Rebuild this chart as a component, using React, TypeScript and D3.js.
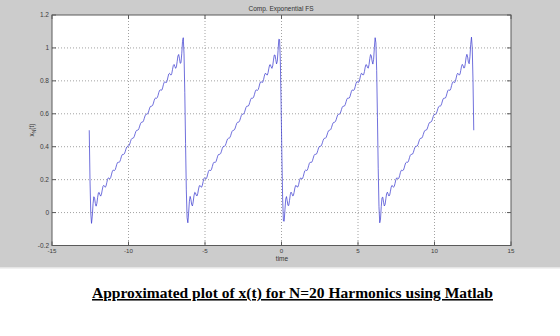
import React, { useEffect } from "react";
import * as d3 from "d3";

// ---- data ----
const harmonicCount = 20; // N
const periodCount = 4; // plotted from -2*pi*2 to 2*pi*2
const timeStep = 0.05;
const xTicks = [-15, -10, -5, 0, 5, 10, 15];
const yTicks = [-0.2, 0, 0.2, 0.4, 0.6, 0.8, 1, 1.2];
const titleText = "Comp. Exponential FS";
const xLabel = "time";
const caption = "Approximated plot of x(t) for N=20 Harmonics using Matlab";

// complex exponential FS coefficients of the sawtooth t/(2pi): c0 = 1/2, cn = j/(2*pi*n)
const c0 = 0.5;
const coeffIm = d3.range(1, harmonicCount + 1).map((n) => 1 / (2 * Math.PI * n));

function buildSeries() {
  const tMax = (periodCount / 2) * 2 * Math.PI;
  const pts: [number, number][] = [];
  const n = Math.round((2 * tMax) / timeStep);
  for (let k = 0; k <= n; k++) {
    const t = -tMax + (2 * tMax * k) / n;
    let v = c0;
    coeffIm.forEach((b, i) => {
      const m = i + 1;
      // 2*Re( j*b*e^{jmt} ) = -2 b sin(mt)
      v += -2 * b * Math.sin(m * t);
    });
    pts.push([t, v]);
  }
  return pts;
}

export default function App() {
  useEffect(() => {
    document.body.style.margin = "0";
  }, []);
  const W = 560,
    H = 336;
  const left = 52,
    right = 511,
    top = 15,
    bottom = 245.5;
  const x = d3.scaleLinear().domain([-15, 15]).range([left, right]);
  const y = d3.scaleLinear().domain([-0.2, 1.2]).range([bottom, top]);
  const series = buildSeries();
  const line = d3
    .line<[number, number]>()
    .x((d) => x(d[0]))
    .y((d) => y(d[1]));
  const axisColor = "#5a5a5a";
  const labelColor = "#3c3c3c";
  const font = "Liberation Sans, Arial, sans-serif";
  const tickLen = 4;
  return (
    <svg width={W} height={H} style={{ display: "block" }} fontFamily={font}>
      <rect x={0} y={0} width={W} height={H} fill="#ffffff" />
      <rect x={0} y={0} width={W} height={267.5} fill="#cccccc" />
      <line x1={0} x2={W} y1={268} y2={268} stroke="#e4e4e4" strokeWidth={1} />
      <rect x={left} y={top} width={right - left} height={bottom - top} fill="#ffffff" />
      {/* grid */}
      {xTicks.slice(1, -1).map((t) => (
        <line
          key={"gx" + t}
          x1={x(t)}
          x2={x(t)}
          y1={top}
          y2={bottom}
          stroke="#8a8a8a"
          strokeWidth={0.8}
          strokeDasharray="1,2"
        />
      ))}
      {yTicks.slice(1, -1).map((t) => (
        <line
          key={"gy" + t}
          x1={left}
          x2={right}
          y1={y(t)}
          y2={y(t)}
          stroke="#8a8a8a"
          strokeWidth={0.8}
          strokeDasharray="1,2"
        />
      ))}
      {/* curve */}
      <path d={line(series) || ""} fill="none" stroke="#4040d0" strokeWidth={0.75} strokeLinejoin="round" />
      {/* box */}
      <rect x={left} y={top} width={right - left} height={bottom - top} fill="none" stroke={axisColor} strokeWidth={1} />
      {/* ticks */}
      {xTicks.map((t) => (
        <g key={"tx" + t}>
          <line x1={x(t)} x2={x(t)} y1={bottom} y2={bottom - tickLen} stroke={axisColor} />
          <line x1={x(t)} x2={x(t)} y1={top} y2={top + tickLen} stroke={axisColor} />
          <text x={x(t)} y={bottom + 7} fontSize={6.2} fill={labelColor} textAnchor="middle">
            {String(t)}
          </text>
        </g>
      ))}
      {yTicks.map((t) => (
        <g key={"ty" + t}>
          <line x1={left} x2={left + tickLen} y1={y(t)} y2={y(t)} stroke={axisColor} />
          <line x1={right} x2={right - tickLen} y1={y(t)} y2={y(t)} stroke={axisColor} />
          <text x={left - 3} y={y(t) + 2.3} fontSize={6.5} fill={labelColor} textAnchor="end">
            {String(Math.round(t * 10) / 10)}
          </text>
        </g>
      ))}
      {/* title & labels */}
      <text x={281} y={11} fontSize={6.5} fill="#333" textAnchor="middle">
        {titleText}
      </text>
      <text x={282} y={260.5} fontSize={6.5} fill="#333" textAnchor="middle">
        {xLabel}
      </text>
      <text transform="translate(34,130) rotate(-90)" fontSize={6.5} fill="#333" textAnchor="middle">
        x
        <tspan fontSize={5} dy={2}>
          N
        </tspan>
        <tspan dy={-2}>(t)</tspan>
      </text>
      {/* caption */}
      <text
        x={292.5}
        y={298}
        fontSize={15.5}
        fontWeight="bold"
        fontFamily="Liberation Serif, Times New Roman, serif"
        fill="#000"
        textAnchor="middle"
        textDecoration="underline"
      >
        {caption}
      </text>
    </svg>
  );
}
